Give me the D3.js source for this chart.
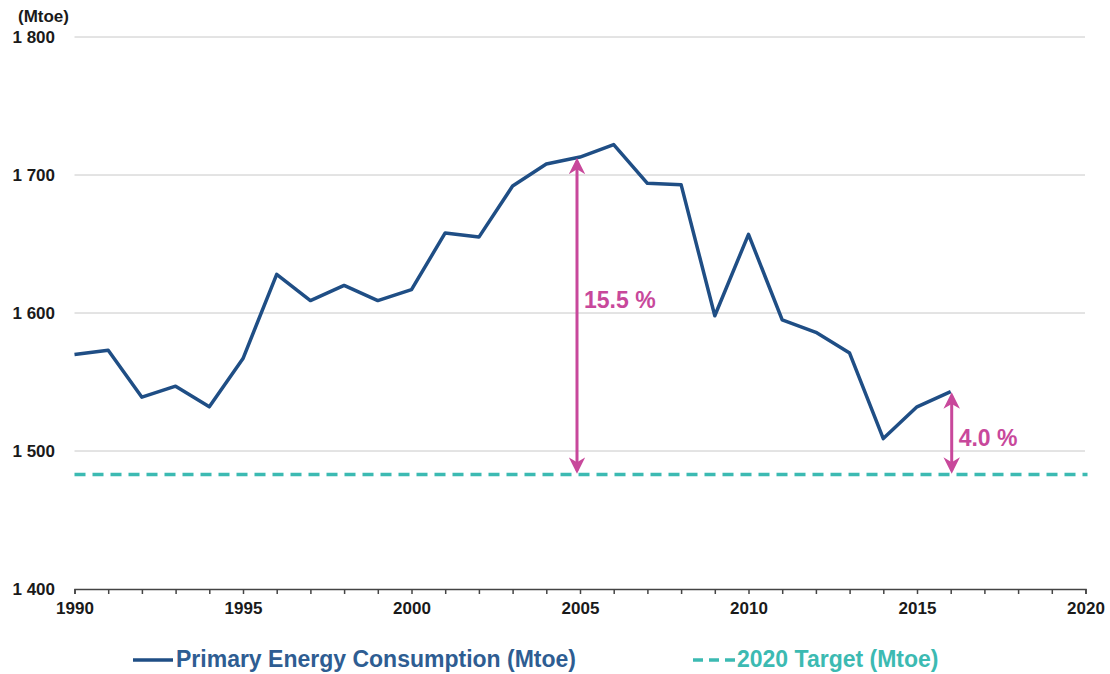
<!DOCTYPE html>
<html>
<head>
<meta charset="utf-8">
<script src="https://cdn.jsdelivr.net/npm/d3@7"></script>
<style>
  body { margin: 0; background: #fff; }
  text { font-family: "Liberation Sans", Arial, sans-serif; font-weight: bold; }
</style>
</head>
<body>
<svg></svg>
<script>
var width = 1110;
var height = 674;

// Data
var years = [1990, 1991, 1992, 1993, 1994, 1995, 1996, 1997, 1998, 1999,
             2000, 2001, 2002, 2003, 2004, 2005, 2006, 2007, 2008, 2009,
             2010, 2011, 2012, 2013, 2014, 2015, 2016];
var consumption = [1570, 1573, 1539, 1547, 1532, 1567, 1628, 1609, 1620, 1609,
                   1617, 1658, 1655, 1692, 1708, 1713, 1722, 1694, 1693, 1598,
                   1657, 1595, 1586, 1571, 1509, 1532, 1543];
var target = 1483;
var yTicks = [1400, 1500, 1600, 1700, 1800];
var xTicks = [1990, 1995, 2000, 2005, 2010, 2015, 2020];
var gaps = [{year: 2005, label: '15.5 %', dx: -3, ty: 308},
            {year: 2016, label: '4.0 %', dx: 1, ty: 446}];

var blue = '#1f4e85';
var teal = '#3cbab2';
var pink = '#c8489b';

var svg = d3.select('svg')
            .attr('width', width)
            .attr('height', height);

var x = d3.scaleLinear().domain([1990, 2020]).range([74.5, 1085.5]);
var y = d3.scaleLinear().domain([1400, 1800]).range([589, 37]);

var fmt = d => d3.format(',')(d).replace(',', ' ');

// Gridlines
svg.append('g')
    .selectAll('line')
    .data(yTicks.filter(d => d > 1400))
    .enter()
    .append('line')
        .attr('x1', x(1990))
        .attr('x2', 1085)
        .attr('y1', d => y(d))
        .attr('y2', d => y(d))
        .attr('stroke', '#c8c8c8')
        .attr('stroke-width', 1);

// Y labels
svg.append('g')
    .selectAll('text')
    .data(yTicks)
    .enter()
    .append('text')
        .attr('x', 55)
        .attr('y', d => y(d) + 6)
        .attr('text-anchor', 'end')
        .style('font-size', '17px')
        .attr('fill', '#1a1a1a')
        .text(fmt);

svg.append('text')
    .attr('x', 18)
    .attr('y', 22)
    .style('font-size', '17px')
    .attr('fill', '#1a1a1a')
    .text('(Mtoe)');

// X axis
var xAxis = d3.axisBottom(x)
                .tickValues(d3.range(1990, 2021))
                .tickSize(5)
                .tickFormat(d => xTicks.includes(d) ? d : '');

var gx = svg.append('g')
            .attr('transform', `translate(0, ${y(1400)})`)
            .call(xAxis);
gx.select('.domain').attr('stroke', '#444').attr('stroke-width', 1.5);
gx.selectAll('.tick line').attr('stroke', '#444').attr('stroke-width', 1.5);
gx.selectAll('.tick text')
    .attr('y', 8)
    .attr('dy', '1em')
    .style('font-size', '17px')
    .style('font-weight', 'bold')
    .style('font-family', '"Liberation Sans", Arial, sans-serif')
    .attr('fill', '#1a1a1a');

// Target line
svg.append('line')
    .attr('x1', x(1990))
    .attr('x2', x(2020) + 2)
    .attr('y1', y(target))
    .attr('y2', y(target))
    .attr('stroke', teal)
    .attr('stroke-width', 3.5)
    .attr('stroke-dasharray', '11 7');

// Consumption line
var line = d3.line()
             .x((d, i) => x(years[i]))
             .y(d => y(d));

svg.append('path')
    .datum(consumption)
    .attr('fill', 'none')
    .attr('stroke', blue)
    .attr('stroke-width', 3.5)
    .attr('stroke-linejoin', 'round')
    .attr('d', line);

// Gap arrows
svg.append('defs').append('marker')
    .attr('id', 'head')
    .attr('viewBox', '0 0 10 10')
    .attr('refX', 8)
    .attr('refY', 5)
    .attr('markerWidth', 5.5)
    .attr('markerHeight', 5.5)
    .attr('orient', 'auto-start-reverse')
    .append('path')
        .attr('d', 'M0,0 L10,5 L0,10 L3,5 Z')
        .attr('fill', pink);

var arrows = svg.append('g')
                .selectAll('g')
                .data(gaps)
                .enter()
                .append('g');

arrows.append('line')
    .attr('x1', d => x(d.year) + d.dx)
    .attr('x2', d => x(d.year) + d.dx)
    .attr('y1', d => y(consumption[years.indexOf(d.year)]) + 4)
    .attr('y2', d => y(target) - 4)
    .attr('stroke', pink)
    .attr('stroke-width', 3)
    .attr('marker-start', 'url(#head)')
    .attr('marker-end', 'url(#head)');

arrows.append('text')
    .attr('x', d => x(d.year) + d.dx + 7)
    .attr('y', d => d.ty)
    .style('font-size', '23px')
    .attr('fill', pink)
    .text(d => d.label);

// Legend
var legend = svg.append('g');
legend.append('line')
    .attr('x1', 133).attr('x2', 173)
    .attr('y1', 660).attr('y2', 660)
    .attr('stroke', blue)
    .attr('stroke-width', 3.5);
legend.append('text')
    .attr('x', 176)
    .attr('y', 667)
    .style('font-size', '23px')
    .attr('fill', '#2e5d92')
    .text('Primary Energy Consumption (Mtoe)');

legend.append('line')
    .attr('x1', 693).attr('x2', 737)
    .attr('y1', 660).attr('y2', 660)
    .attr('stroke', teal)
    .attr('stroke-width', 3.5)
    .attr('stroke-dasharray', '10 6');
legend.append('text')
    .attr('x', 737)
    .attr('y', 667)
    .style('font-size', '23px')
    .attr('fill', teal)
    .text('2020 Target (Mtoe)');
</script>
</body>
</html>
